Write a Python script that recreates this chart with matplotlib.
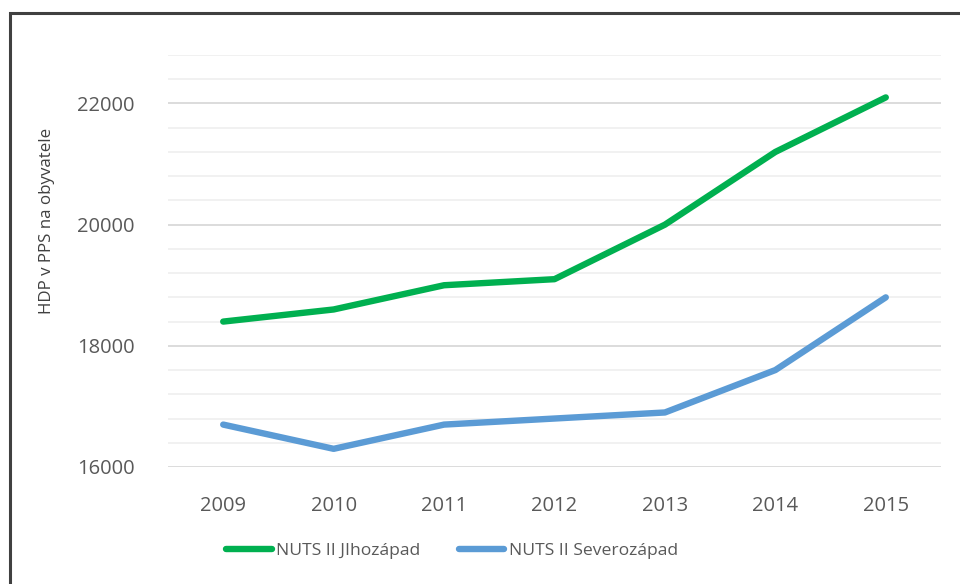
import matplotlib
matplotlib.use("Agg")
import matplotlib.pyplot as plt
from matplotlib.patches import Rectangle
from matplotlib.ticker import MultipleLocator

years = ["2009", "2010", "2011", "2012", "2013", "2014", "2015"]
jihozapad = [18400, 18600, 19000, 19100, 20000, 21200, 22100]
severozapad = [16700, 16300, 16700, 16800, 16900, 17600, 18800]
series_names = ["NUTS II JIhozápad", "NUTS II Severozápad"]
ylabel = "HDP v PPS na obyvatele"

plt.rcParams['font.family'] = ['Open Sans', 'DejaVu Sans']
W, H = 960, 584
fig = plt.figure(figsize=(W / 100, H / 100), dpi=100)

def fx(px):
    return px / W

def fy(py):
    return 1 - py / H

ax = fig.add_axes([fx(168), fy(467), fx(941) - fx(168), fy(55) - fy(467)])
x = list(range(len(years)))
ax.plot(x, jihozapad, color="#00b050", lw=4.6, solid_capstyle="round", label=series_names[0], zorder=3)
ax.plot(x, severozapad, color="#5b9bd5", lw=4.6, solid_capstyle="round", label=series_names[1], zorder=3)

ax.set_xlim(-0.5, len(years) - 0.5)
ax.set_ylim(16000, 22800)
ax.set_xticks(x)
ax.set_xticklabels(years)
ax.yaxis.set_major_locator(MultipleLocator(2000))
ax.yaxis.set_minor_locator(MultipleLocator(400))
ax.grid(True, which="major", axis="y", color="#d9d9d9", lw=1.3, zorder=1)
ax.grid(True, which="minor", axis="y", color="#f0f0f0", lw=1.3, zorder=0)
ax.tick_params(axis="both", which="both", length=0, colors="#595959", labelsize=14.5)
ax.tick_params(axis="y", pad=24)
ax.tick_params(axis="x", pad=21)
for s in ax.spines.values():
    s.set_visible(False)

fig.text(fx(47), fy(221), ylabel, rotation=90, ha="center", va="center", fontsize=12.2, color="#404040")

leg = fig.legend(loc="center", bbox_to_anchor=(fx(452), fy(551)), ncol=2, frameon=False,
                 fontsize=12.6, handlelength=2.6, handletextpad=0.25, columnspacing=2.2,
                 labelcolor="#595959")

fig.patches.append(Rectangle((fx(9.5), fy(590)), fx(970) - fx(9.5), fy(12.5) - fy(590),
                             transform=fig.transFigure, fill=False, edgecolor="#404040", lw=2.2))

fig.savefig("out.png", dpi=100)
